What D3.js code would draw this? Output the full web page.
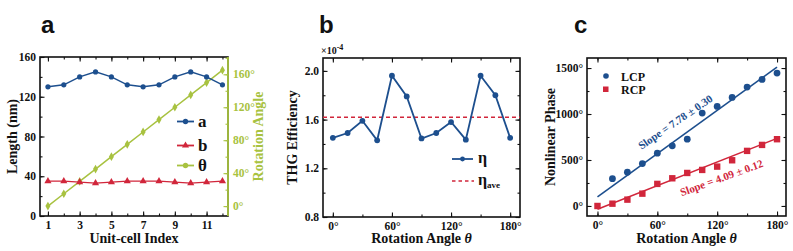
<!DOCTYPE html>
<html>
<head>
<meta charset="utf-8">
<script src="https://cdn.jsdelivr.net/npm/d3@7"></script>
<style>
  body { margin: 0; background: #fff; }
  svg { display: block; }
  .tick text { font-family: "Liberation Serif", "Times New Roman", serif; font-weight: bold; font-size: 11.5px; fill: #111; }
  .axis-title { font-family: "Liberation Serif", "Times New Roman", serif; font-weight: bold; font-size: 14px; fill: #111; }
  .panel-label { font-family: "Liberation Sans", Arial, sans-serif; font-weight: bold; font-size: 24px; fill: #111; }
</style>
</head>
<body>
<svg id="chart" width="793" height="251"></svg>
<script>
const BLUE = "#1d4f8e";
const RED = "#d1263b";
const GREEN = "#a8c240";

// panel a
const cellIndex = [1, 2, 3, 4, 5, 6, 7, 8, 9, 10, 11, 12];
const lengthA = [130, 132, 140, 145, 140, 132, 130, 132, 140, 145, 140, 132];
const lengthB = [35, 35, 34, 33, 34, 35, 35, 35, 34, 33, 34, 35];
const rotationDeg = [0, 15, 30, 45, 60, 75, 90, 105, 120, 135, 150, 165];
const indexTicks = [1, 3, 5, 7, 9, 11];
const lengthTicks = [0, 40, 80, 120, 160];
const rotationTicks = [0, 40, 80, 120, 160];

// panel b
const angleB = [0, 15, 30, 45, 60, 75, 90, 105, 120, 135, 150, 165, 180];
const thgEta = [1.45, 1.49, 1.59, 1.43, 1.96, 1.79, 1.445, 1.49, 1.58, 1.435, 1.96, 1.80, 1.45];
const thgAve = 1.62;
const angleTicks = [0, 60, 120, 180];
const thgTicks = [0.8, 1.2, 1.6, 2.0];

// panel c
const lcpAngle = [15, 30, 45, 60, 75, 90, 105, 120, 135, 150, 165, 180];
const lcpPhase = [297, 367, 461, 574, 654, 726, 1010, 1082, 1180, 1293, 1376, 1445];
const rcpAngle = [0, 15, 30, 45, 60, 75, 90, 105, 120, 135, 150, 165, 180];
const rcpPhase = [0, 25, 69, 134, 240, 301, 359, 392, 428, 497, 599, 664, 726];
const lcpFit = [[0, 100], [180, 1510]];
const rcpFit = [[0, -35], [180, 735]];
const phaseTicks = [0, 500, 1000, 1500];

const svg = d3.select("#chart");
const deg = (d) => `${d}°`;

function frame(g, x, y, opts) {
  const [x0, x1] = x.range();
  const [y0, y1] = y.range();
  const h = y0 - y1;
  const w = x1 - x0;

  g.append("g").attr("transform", `translate(0,${y0})`)
    .call(d3.axisBottom(x).tickValues(opts.xMinor).tickFormat("").tickSizeInner(-2.5).tickSizeOuter(0));
  g.append("g").attr("transform", `translate(0,${y0})`)
    .call(d3.axisBottom(x).tickValues(opts.xTicks).tickFormat(opts.xFormat).tickSizeInner(-4.5).tickSizeOuter(0).tickPadding(5));
  g.append("g").attr("transform", `translate(0,${y1})`)
    .call(d3.axisTop(x).tickValues(opts.xMinor).tickFormat("").tickSizeInner(-2.5).tickSizeOuter(0));
  g.append("g").attr("transform", `translate(0,${y1})`)
    .call(d3.axisTop(x).tickValues(opts.xTicks).tickFormat("").tickSizeInner(-4.5).tickSizeOuter(0));

  g.append("g").attr("transform", `translate(${x0},0)`)
    .call(d3.axisLeft(y).tickValues(opts.yMinor).tickFormat("").tickSizeInner(-2.5).tickSizeOuter(0));
  g.append("g").attr("transform", `translate(${x0},0)`)
    .call(d3.axisLeft(y).tickValues(opts.yTicks).tickFormat(opts.yFormat).tickSizeInner(-4.5).tickSizeOuter(0).tickPadding(4));

  if (!opts.noRight) {
    g.append("g").attr("transform", `translate(${x1},0)`)
      .call(d3.axisRight(y).tickValues(opts.yMinor).tickFormat("").tickSizeInner(-2.5).tickSizeOuter(0));
    g.append("g").attr("transform", `translate(${x1},0)`)
      .call(d3.axisRight(y).tickValues(opts.yTicks).tickFormat("").tickSizeInner(-4.5).tickSizeOuter(0));
  }

  g.selectAll(".domain").remove();
  g.selectAll(".tick line").attr("stroke", "#111").attr("stroke-width", 1.1);

  g.append("rect")
    .attr("x", x0).attr("y", y1).attr("width", w).attr("height", h)
    .attr("fill", "none").attr("stroke", "#111").attr("stroke-width", 1.6);

  g.append("text").attr("class", "axis-title")
    .attr("x", (x0 + x1) / 2).attr("y", 243).attr("text-anchor", "middle")
    .call(opts.xTitle);
  g.append("text").attr("class", "axis-title")
    .attr("transform", `translate(${opts.yTitleX},${(y0 + y1) / 2}) rotate(-90)`)
    .attr("text-anchor", "middle")
    .text(opts.yTitle);
}

function italicTheta(t, label) {
  t.text(label + " ");
  t.append("tspan").attr("font-style", "italic").text("θ");
}

function panelA() {
  const g = svg.append("g");
  const x = d3.scaleLinear().domain([0.5, 12.35]).range([40, 228]);
  const y = d3.scaleLinear().domain([0, 160]).range([216, 57]);
  const yr = d3.scaleLinear().domain([-12, 181]).range([216, 57]);

  frame(g, x, y, {
    xTicks: indexTicks, xMinor: cellIndex, xFormat: d3.format("d"),
    yTicks: lengthTicks, yMinor: d3.range(0, 161, 20), yFormat: d3.format("d"),
    xTitle: (t) => t.text("Unit-cell Index"),
    yTitle: "Length (nm)", yTitleX: 17, noRight: true,
  });

  const right = g.append("g").attr("transform", "translate(228,0)");
  right.call(d3.axisRight(yr).tickValues(d3.range(0, 181, 20)).tickFormat("").tickSizeInner(-2.5).tickSizeOuter(0));
  right.append("g")
    .call(d3.axisRight(yr).tickValues(rotationTicks).tickFormat(deg).tickSizeInner(-4.5).tickSizeOuter(0).tickPadding(5));
  right.selectAll(".domain").remove();
  right.selectAll(".tick line").attr("stroke", GREEN).attr("stroke-width", 1.1);
  right.selectAll(".tick text").style("fill", GREEN);
  g.append("line").attr("x1", 228).attr("x2", 228).attr("y1", 57).attr("y2", 216)
    .attr("stroke", GREEN).attr("stroke-width", 1.8);
  g.append("text").attr("class", "axis-title")
    .attr("transform", `translate(263,${(216 + 57) / 2}) rotate(-90)`)
    .attr("text-anchor", "middle").style("fill", GREEN).text("Rotation Angle");

  const lineA = d3.line().x((d, i) => x(cellIndex[i])).y((d) => y(d));
  const lineT = d3.line().x((d, i) => x(cellIndex[i])).y((d) => yr(d));

  g.append("path").datum(rotationDeg).attr("d", lineT)
    .attr("fill", "none").attr("stroke", GREEN).attr("stroke-width", 1.5);
  g.append("g").selectAll("path").data(rotationDeg).join("path")
    .attr("d", d3.symbol(d3.symbolDiamond, 22))
    .attr("transform", (d, i) => `translate(${x(cellIndex[i])},${yr(d)})`)
    .attr("fill", GREEN);

  g.append("path").datum(lengthA).attr("d", lineA)
    .attr("fill", "none").attr("stroke", BLUE).attr("stroke-width", 1.5);
  g.append("g").selectAll("circle").data(lengthA).join("circle")
    .attr("cx", (d, i) => x(cellIndex[i])).attr("cy", (d) => y(d)).attr("r", 2.6)
    .attr("fill", BLUE);

  g.append("path").datum(lengthB).attr("d", lineA)
    .attr("fill", "none").attr("stroke", RED).attr("stroke-width", 1.3);
  g.append("g").selectAll("path").data(lengthB).join("path")
    .attr("d", d3.symbol(d3.symbolTriangle, 22))
    .attr("transform", (d, i) => `translate(${x(cellIndex[i])},${y(d)})`)
    .attr("fill", RED);

  const legend = [
    { label: "a", color: BLUE, sym: d3.symbolCircle, y: 121.5 },
    { label: "b", color: RED, sym: d3.symbolTriangle, y: 145.5 },
    { label: "θ", color: GREEN, sym: d3.symbolCircle, y: 165.5 },
  ];
  const lg = g.append("g");
  for (const item of legend) {
    lg.append("rect").attr("x", 175).attr("y", item.y - 7).attr("width", 22).attr("height", 14).attr("fill", "#fff");
    lg.append("line").attr("x1", 177).attr("x2", 194).attr("y1", item.y).attr("y2", item.y)
      .attr("stroke", item.color).attr("stroke-width", 1.8);
    lg.append("path").attr("d", d3.symbol(item.sym, 22))
      .attr("transform", `translate(185.5,${item.y})`).attr("fill", item.color);
    lg.append("text").attr("x", 198).attr("y", item.y + 5)
      .attr("font-family", "Liberation Serif, serif").attr("font-weight", "bold").attr("font-size", 17)
      .attr("fill", "#111").text(item.label);
  }

  svg.append("text").attr("class", "panel-label").attr("x", 41).attr("y", 33).text("a");
}

function panelB() {
  const g = svg.append("g");
  const x = d3.scaleLinear().domain([-10, 190]).range([323, 520]);
  const y = d3.scaleLinear().domain([0.8, 2.106]).range([217, 58]);

  frame(g, x, y, {
    xTicks: angleTicks, xMinor: d3.range(0, 181, 30), xFormat: deg,
    yTicks: thgTicks, yMinor: d3.range(0.8, 2.05, 0.2), yFormat: d3.format(".1f"),
    xTitle: (t) => italicTheta(t, "Rotation Angle"),
    yTitle: "THG Efficiency", yTitleX: 297,
  });

  g.append("line").attr("x1", 323).attr("x2", 520).attr("y1", y(thgAve)).attr("y2", y(thgAve))
    .attr("stroke", RED).attr("stroke-width", 1.5).attr("stroke-dasharray", "4,3");

  const line = d3.line().x((d, i) => x(angleB[i])).y((d) => y(d));
  g.append("path").datum(thgEta).attr("d", line)
    .attr("fill", "none").attr("stroke", BLUE).attr("stroke-width", 1.8);
  g.append("g").selectAll("circle").data(thgEta).join("circle")
    .attr("cx", (d, i) => x(angleB[i])).attr("cy", (d) => y(d)).attr("r", 2.9)
    .attr("fill", BLUE);

  const mult = g.append("text").attr("x", 321).attr("y", 54)
    .attr("font-family", "Liberation Serif, serif").attr("font-weight", "bold").attr("font-size", 10).attr("fill", "#111")
    .text("×10");
  mult.append("tspan").attr("dy", -4).attr("font-size", 8).text("-4");

  g.append("line").attr("x1", 452).attr("x2", 473).attr("y1", 159).attr("y2", 159)
    .attr("stroke", BLUE).attr("stroke-width", 1.8);
  g.append("circle").attr("cx", 462.5).attr("cy", 159).attr("r", 2.4).attr("fill", BLUE);
  g.append("text").attr("x", 478).attr("y", 163)
    .attr("font-family", "Liberation Serif, serif").attr("font-weight", "bold").attr("font-size", 16).attr("fill", "#111")
    .text("η");
  g.append("line").attr("x1", 452).attr("x2", 474).attr("y1", 181).attr("y2", 181)
    .attr("stroke", RED).attr("stroke-width", 1.4).attr("stroke-dasharray", "3.5,3");
  const ave = g.append("text").attr("x", 478).attr("y", 185)
    .attr("font-family", "Liberation Serif, serif").attr("font-weight", "bold").attr("font-size", 16).attr("fill", "#111")
    .text("η");
  ave.append("tspan").attr("dy", 3).attr("font-size", 9).text("ave");

  svg.append("text").attr("class", "panel-label").attr("x", 319).attr("y", 33).text("b");
}

function panelC() {
  const g = svg.append("g");
  const x = d3.scaleLinear().domain([-10.5, 189]).range([587, 786]);
  const y = d3.scaleLinear().domain([-109, 1609]).range([216, 58]);

  frame(g, x, y, {
    xTicks: angleTicks, xMinor: d3.range(0, 181, 30), xFormat: deg,
    yTicks: phaseTicks, yMinor: d3.range(0, 1501, 250), yFormat: deg,
    xTitle: (t) => italicTheta(t, "Rotation Angle"),
    yTitle: "Nonlinear Phase", yTitleX: 555,
  });

  const fit = d3.line().x((d) => x(d[0])).y((d) => y(d[1]));
  g.append("path").datum(lcpFit).attr("d", fit).attr("stroke", BLUE).attr("stroke-width", 1.6).attr("fill", "none");
  g.append("path").datum(rcpFit).attr("d", fit).attr("stroke", RED).attr("stroke-width", 1.6).attr("fill", "none");

  g.append("g").selectAll("circle").data(lcpPhase).join("circle")
    .attr("cx", (d, i) => x(lcpAngle[i])).attr("cy", (d) => y(d)).attr("r", 3.4)
    .attr("fill", BLUE);
  g.append("g").selectAll("rect").data(rcpPhase).join("rect")
    .attr("x", (d, i) => x(rcpAngle[i]) - 3.2).attr("y", (d) => y(d) - 3.2)
    .attr("width", 6.4).attr("height", 6.4)
    .attr("fill", RED);

  const slopeText = (cx, cy, angle, color, label) => {
    g.append("text")
      .attr("transform", `translate(${cx},${cy}) rotate(${angle})`)
      .attr("text-anchor", "middle").attr("dominant-baseline", "middle")
      .attr("font-family", "Liberation Serif, serif").attr("font-weight", "bold").attr("font-size", 11)
      .attr("fill", color).text(label);
  };
  slopeText(676, 123, -34.5, BLUE, "Slope = 7.78 ± 0.30");
  slopeText(722, 179, -20, RED, "Slope = 4.09 ± 0.12");

  g.append("circle").attr("cx", 606).attr("cy", 76).attr("r", 2.8).attr("fill", BLUE);
  g.append("rect").attr("x", 603).attr("y", 86.5).attr("width", 5.5).attr("height", 5.5).attr("fill", RED);
  g.append("text").attr("x", 621).attr("y", 80.5)
    .attr("font-family", "Liberation Serif, serif").attr("font-weight", "bold").attr("font-size", 12).attr("fill", "#111")
    .text("LCP");
  g.append("text").attr("x", 621).attr("y", 94)
    .attr("font-family", "Liberation Serif, serif").attr("font-weight", "bold").attr("font-size", 12).attr("fill", "#111")
    .text("RCP");

  svg.append("text").attr("class", "panel-label").attr("x", 574).attr("y", 33).text("c");
}

panelA();
panelB();
panelC();
</script>
</body>
</html>
